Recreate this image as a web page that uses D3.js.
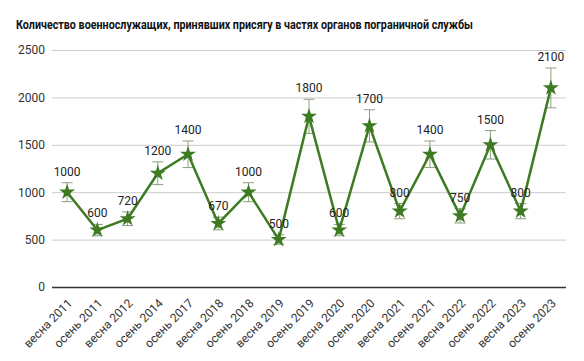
<!DOCTYPE html>
<html><head><meta charset="utf-8">
<script src="https://cdn.jsdelivr.net/npm/d3@7"></script>
<style>body{margin:0;background:#fff}svg{display:block}text{font-family:Roboto,"Noto Sans",sans-serif}</style>
</head><body><svg id="c" width="584" height="361"></svg>
<script>
const categories = ["весна 2011","осень 2011","весна 2012","осень 2014","осень 2017","весна 2018","осень 2018","весна 2019","осень 2019","весна 2020","осень 2020","весна 2021","осень 2021","весна 2022","осень 2022","весна 2023","осень 2023"];
const values = [1000,600,720,1200,1400,670,1000,500,1800,600,1700,800,1400,750,1500,800,2100];
const yTicks = [0,500,1000,1500,2000,2500];
const errorFraction = 0.1;
const title = "Количество военнослужащих, принявших присягу в частях органов пограничной службы";

const svg = d3.select("#c");
const m = {l:52, r:18, t:50, b:74};
const W = 584, H = 361;
const x = d3.scaleBand().domain(categories).range([m.l, W-m.r]).padding(0);
const y = d3.scaleLinear().domain([0,2500]).range([H-m.b, m.t]);

svg.append("text").attr("x",16).attr("y",29).attr("font-size",12.5).attr("font-weight","bold")
  .attr("fill","#111").attr("textLength",457).attr("lengthAdjust","spacingAndGlyphs").text(title);

const yAxis = svg.append("g").attr("transform",`translate(${m.l},0)`)
  .call(d3.axisLeft(y).tickValues(yTicks).tickSize(-(W-m.l-m.r)).tickPadding(7).tickFormat(d3.format("d")));
yAxis.select(".domain").remove();
yAxis.selectAll(".tick line").attr("stroke","#ccc").attr("stroke-width",1);
yAxis.selectAll(".tick text").attr("font-size",12).attr("fill","#333");
yAxis.selectAll(".tick").filter(d=>d===0).select("line").attr("stroke","#333").attr("stroke-width",1.5);

const xAxis = svg.append("g").attr("transform",`translate(0,${H-m.b})`)
  .call(d3.axisBottom(x).tickSize(0).tickPadding(0));
xAxis.select(".domain").remove();
xAxis.selectAll(".tick text").attr("font-size",12).attr("fill","#333")
  .attr("text-anchor","end").attr("dy",0)
  .attr("transform","translate(6,17) rotate(-45)");

const cx = d => x(d) + x.bandwidth()/2;
const data = categories.map((c,i)=>({c, v:values[i]}));

const eb = svg.append("g").attr("stroke","#8aa07e").attr("stroke-width",1);
data.forEach(d=>{
  const lo = y(d.v*(1-errorFraction)), hi = y(d.v*(1+errorFraction)), X = cx(d.c);
  eb.append("line").attr("x1",X).attr("x2",X).attr("y1",lo).attr("y2",hi);
  eb.append("line").attr("x1",X-5.5).attr("x2",X+5.5).attr("y1",lo).attr("y2",lo);
  eb.append("line").attr("x1",X-5.5).attr("x2",X+5.5).attr("y1",hi).attr("y2",hi);
});

svg.append("path").datum(data).attr("fill","none").attr("stroke","#3d7a22").attr("stroke-width",2.5)
  .attr("d", d3.line().x(d=>cx(d.c)).y(d=>y(d.v)));

svg.append("g").selectAll("path").data(data).join("path")
  .attr("transform",d=>`translate(${cx(d.c)},${y(d.v)})`)
  .attr("d", d3.symbol(d3.symbolStar, 80)).attr("fill","#3d7a22");

svg.append("g").selectAll("text").data(data).join("text")
  .attr("x",d=>cx(d.c)).attr("y",d=>y(d.v*(1+errorFraction))-7)
  .attr("text-anchor","middle").attr("font-size",12).attr("fill","#222").text(d=>d.v);
</script></body></html>
